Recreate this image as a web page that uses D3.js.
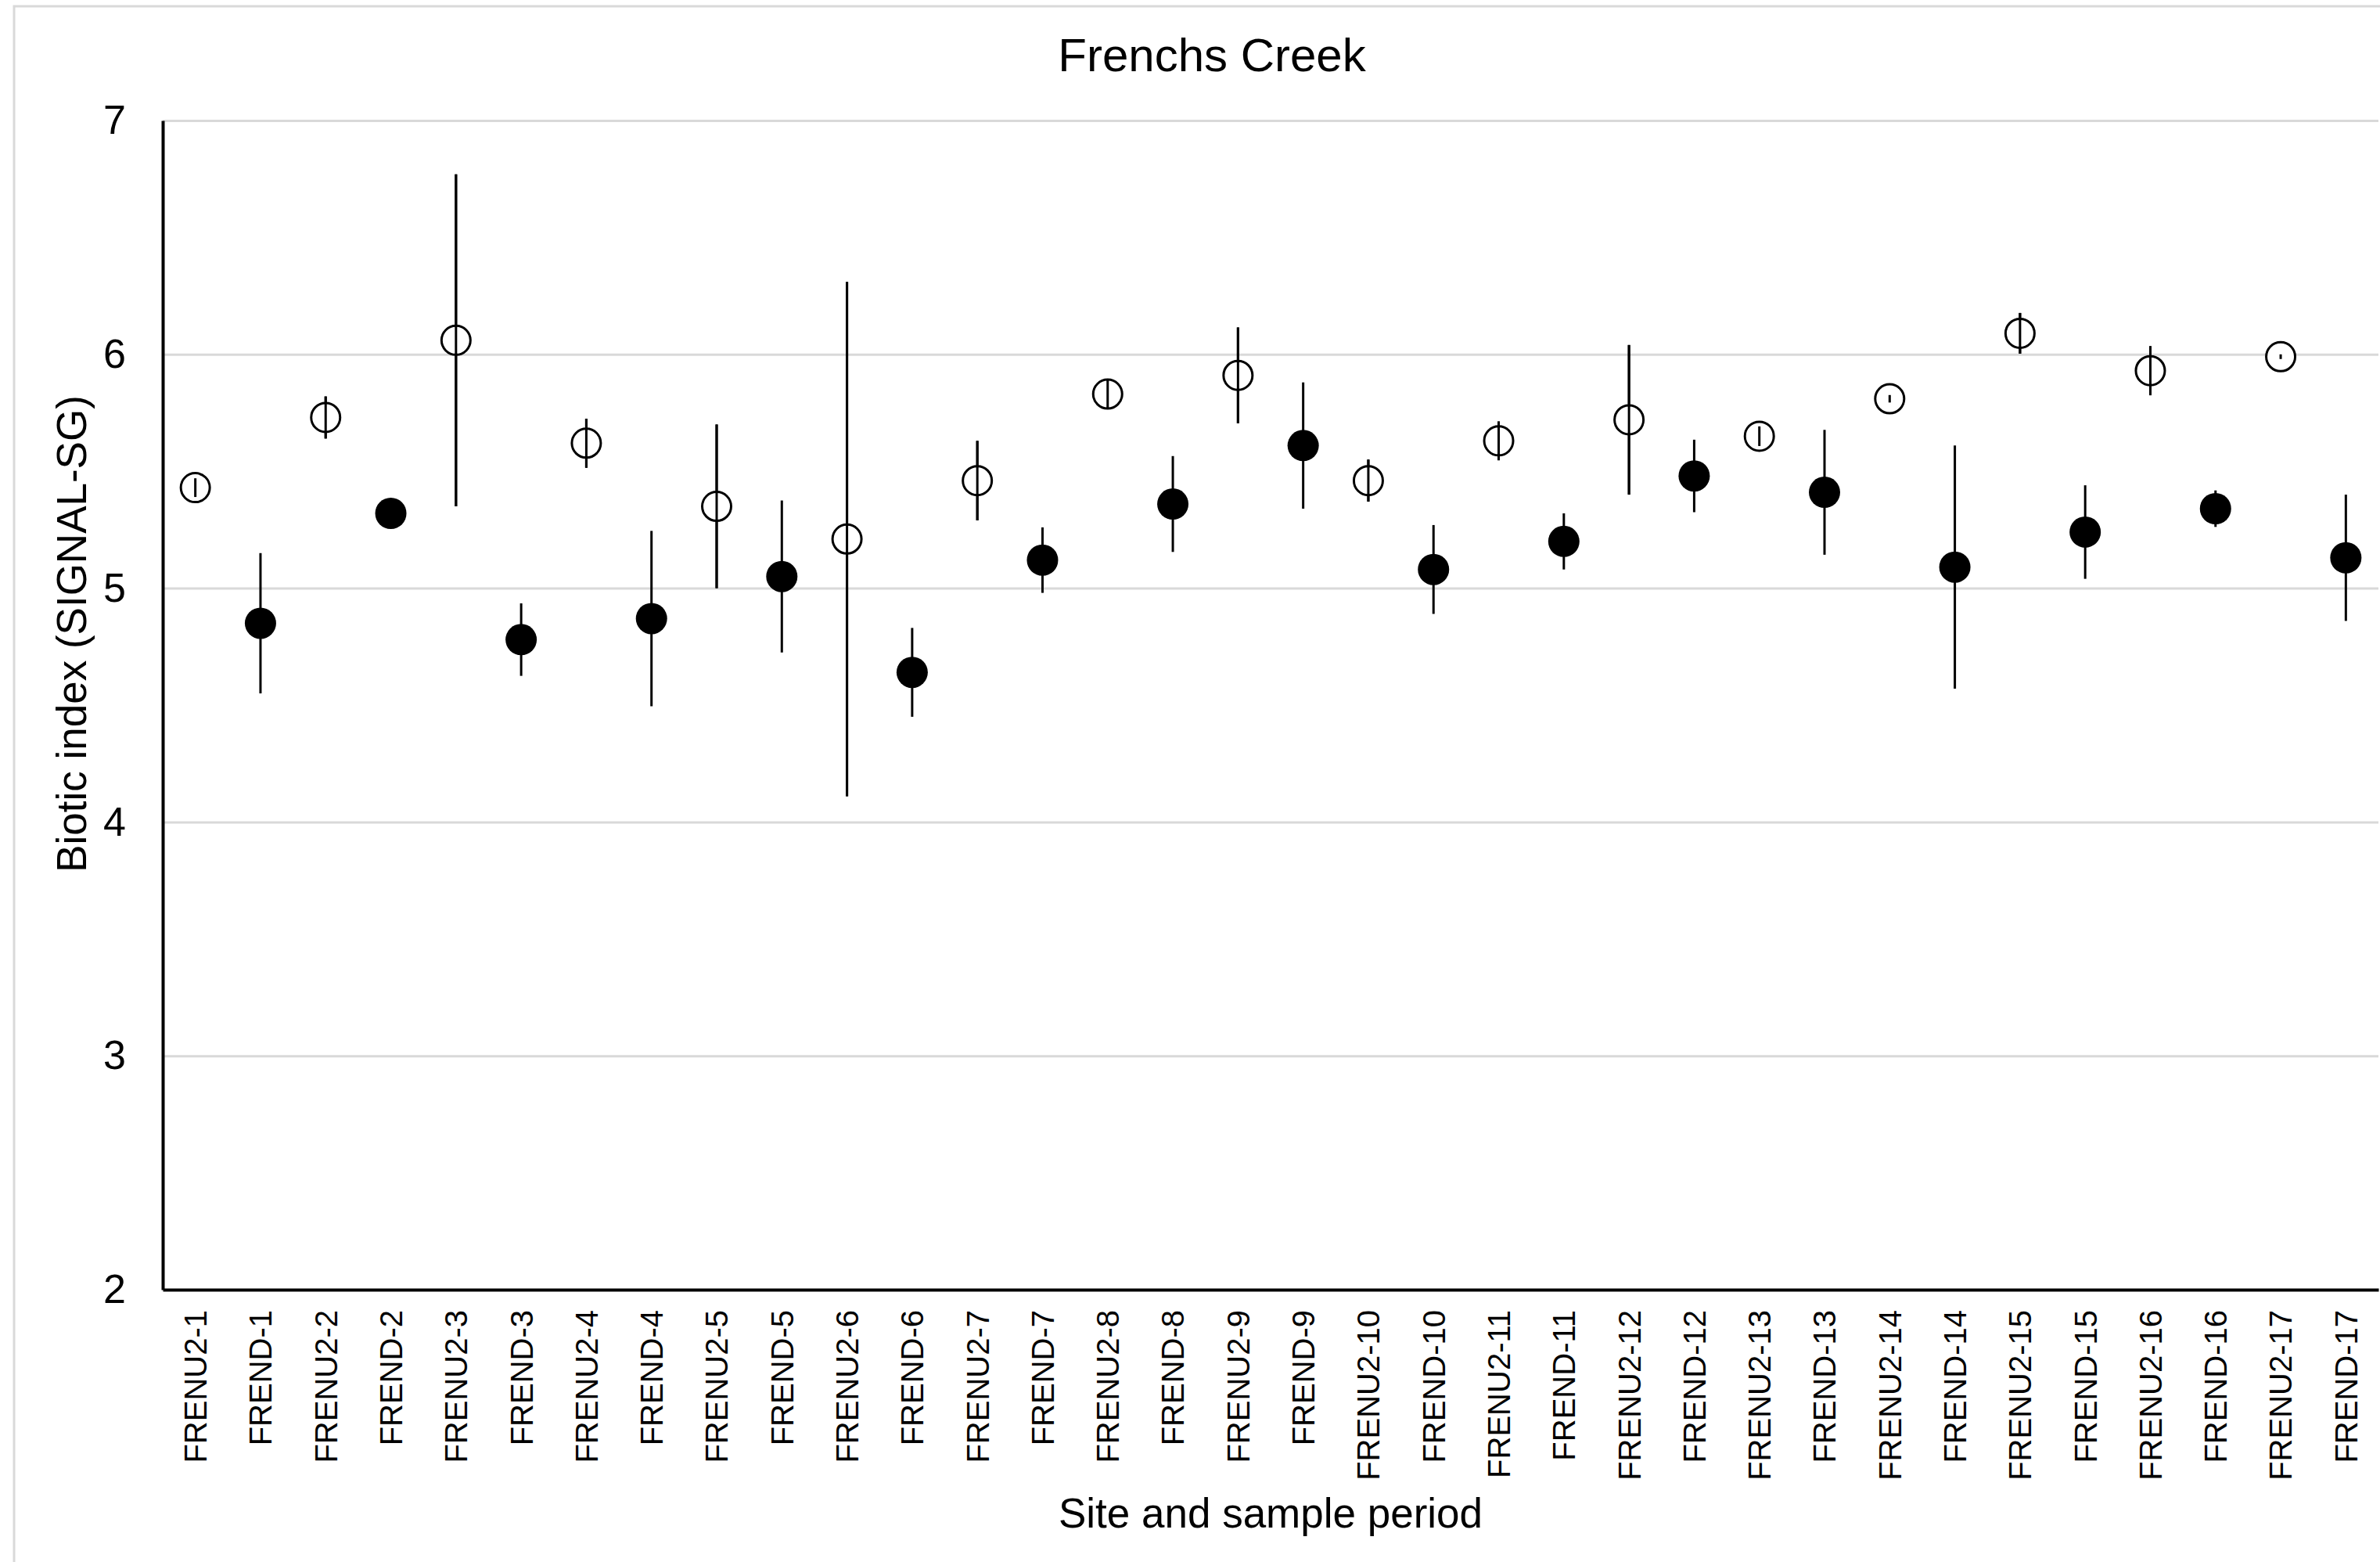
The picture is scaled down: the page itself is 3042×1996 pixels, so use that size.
<!DOCTYPE html>
<html>
<head>
<meta charset="utf-8">
<script src="https://cdn.jsdelivr.net/npm/d3@7"></script>
<style>
  html, body { margin: 0; padding: 0; background: #fff; }
  svg { display: block; }
  text { font-family: "Liberation Sans", Arial, sans-serif; fill: #000; }
</style>
</head>
<body>
<svg id="chart" width="3042" height="1996"></svg>
<script>
// ---- data ----
const categories = [
  "FRENU2-1","FREND-1","FRENU2-2","FREND-2","FRENU2-3","FREND-3","FRENU2-4","FREND-4",
  "FRENU2-5","FREND-5","FRENU2-6","FREND-6","FRENU2-7","FREND-7","FRENU2-8","FREND-8",
  "FRENU2-9","FREND-9","FRENU2-10","FREND-10","FRENU2-11","FREND-11","FRENU2-12","FREND-12",
  "FRENU2-13","FREND-13","FRENU2-14","FREND-14","FRENU2-15","FREND-15","FRENU2-16","FREND-16",
  "FRENU2-17","FREND-17"
];
// upstream sites (open markers), sample periods 1..17
const upstreamMean = [5.43, 5.73, 6.06, 5.62, 5.35, 5.21, 5.46, 5.83, 5.91, 5.46, 5.63, 5.72, 5.65, 5.81, 6.09, 5.93, 5.99];
const upstreamErr  = [0.04, 0.09, 0.71, 0.105, 0.35, 1.10, 0.17, 0.06, 0.205, 0.09, 0.083, 0.32, 0.042, 0.016, 0.087, 0.105, 0.01];
// downstream sites (filled markers), sample periods 1..17
const downstreamMean = [4.85, 5.32, 4.78, 4.87, 5.05, 4.64, 5.12, 5.36, 5.61, 5.08, 5.20, 5.48, 5.41, 5.09, 5.24, 5.34, 5.13];
const downstreamErr  = [0.30, 0.04, 0.155, 0.375, 0.325, 0.19, 0.14, 0.205, 0.27, 0.19, 0.12, 0.155, 0.267, 0.52, 0.20, 0.078, 0.27];
const yTicks = [2, 3, 4, 5, 6, 7];

const title = "Frenchs Creek";
const yTitle = "Biotic index (SIGNAL-SG)";
const xTitle = "Site and sample period";

// ---- build point table ----
const points = [];
upstreamMean.forEach((m, i) => {
  points.push({cat: "FRENU2-" + (i + 1), mean: m, err: upstreamErr[i], filled: false});
  points.push({cat: "FREND-" + (i + 1), mean: downstreamMean[i], err: downstreamErr[i], filled: true});
});

// ---- layout ----
const svg = d3.select("#chart");
const plot = {left: 208, right: 3040, top: 154, bottom: 1648};

// outer chart border
svg.append("rect")
  .attr("x", 18).attr("y", 8)
  .attr("width", 3100).attr("height", 2100)
  .attr("fill", "#fff").attr("stroke", "#d9d9d9").attr("stroke-width", 3);

const x = d3.scaleBand().domain(categories).range([plot.left, plot.right]).padding(0);
const y = d3.scaleLinear().domain([2, 7]).range([plot.bottom, plot.top]);

// gridlines
svg.append("g")
  .attr("transform", `translate(${plot.left},0)`)
  .call(d3.axisLeft(y).tickValues(yTicks.filter(v => v > 2)).tickSize(-(plot.right - plot.left)).tickFormat(""))
  .call(g => g.select(".domain").remove())
  .call(g => g.selectAll(".tick line").attr("stroke", "#d9d9d9").attr("stroke-width", 3));

// y axis
svg.append("g")
  .attr("transform", `translate(${plot.left},0)`)
  .call(d3.axisLeft(y).tickValues(yTicks).tickSize(0).tickSizeOuter(0).tickPadding(47).tickFormat(d3.format("d")))
  .call(g => g.select(".domain").attr("stroke", "#000").attr("stroke-width", 4))
  .call(g => g.selectAll(".tick text")
      .attr("font-size", 52).attr("font-family", "Liberation Sans, Arial, sans-serif").attr("fill", "#000"));

// x axis
const xAxisG = svg.append("g")
  .attr("transform", `translate(0,${plot.bottom})`)
  .call(d3.axisBottom(x).tickSize(0).tickSizeOuter(0))
  .call(g => g.select(".domain").attr("stroke", "#000").attr("stroke-width", 4));
xAxisG.selectAll(".tick text")
  .attr("font-size", 40).attr("font-family", "Liberation Sans, Arial, sans-serif").attr("fill", "#000")
  .attr("text-anchor", "end")
  .attr("transform", "rotate(-90)")
  .attr("x", -26).attr("y", 0).attr("dy", "0.36em");

// error bars
svg.append("g").selectAll("line")
  .data(points).join("line")
  .attr("x1", d => x(d.cat) + x.bandwidth() / 2)
  .attr("x2", d => x(d.cat) + x.bandwidth() / 2)
  .attr("y1", d => y(d.mean + d.err))
  .attr("y2", d => y(d.mean - d.err))
  .attr("stroke", "#000").attr("stroke-width", 3);

// markers
svg.append("g").selectAll("circle")
  .data(points).join("circle")
  .attr("cx", d => x(d.cat) + x.bandwidth() / 2)
  .attr("cy", d => y(d.mean))
  .attr("r", d => d.filled ? 20 : 18.5)
  .attr("fill", d => d.filled ? "#000" : "#fff")
  .attr("stroke", "#000").attr("stroke-width", d => d.filled ? 0 : 3);

// error lines visible through open markers
svg.append("g").selectAll("line")
  .data(points.filter(d => !d.filled)).join("line")
  .attr("x1", d => x(d.cat) + x.bandwidth() / 2)
  .attr("x2", d => x(d.cat) + x.bandwidth() / 2)
  .attr("y1", d => y(d.mean + d.err))
  .attr("y2", d => y(d.mean - d.err))
  .attr("stroke", "#000").attr("stroke-width", 3);

// titles
svg.append("text")
  .attr("x", 1549).attr("y", 91)
  .attr("text-anchor", "middle").attr("font-size", 60)
  .text(title);

svg.append("text")
  .attr("transform", "translate(110,810) rotate(-90)")
  .attr("text-anchor", "middle").attr("font-size", 53)
  .text(yTitle);

svg.append("text")
  .attr("x", 1624).attr("y", 1952)
  .attr("text-anchor", "middle").attr("font-size", 53)
  .text(xTitle);
</script>
</body>
</html>
